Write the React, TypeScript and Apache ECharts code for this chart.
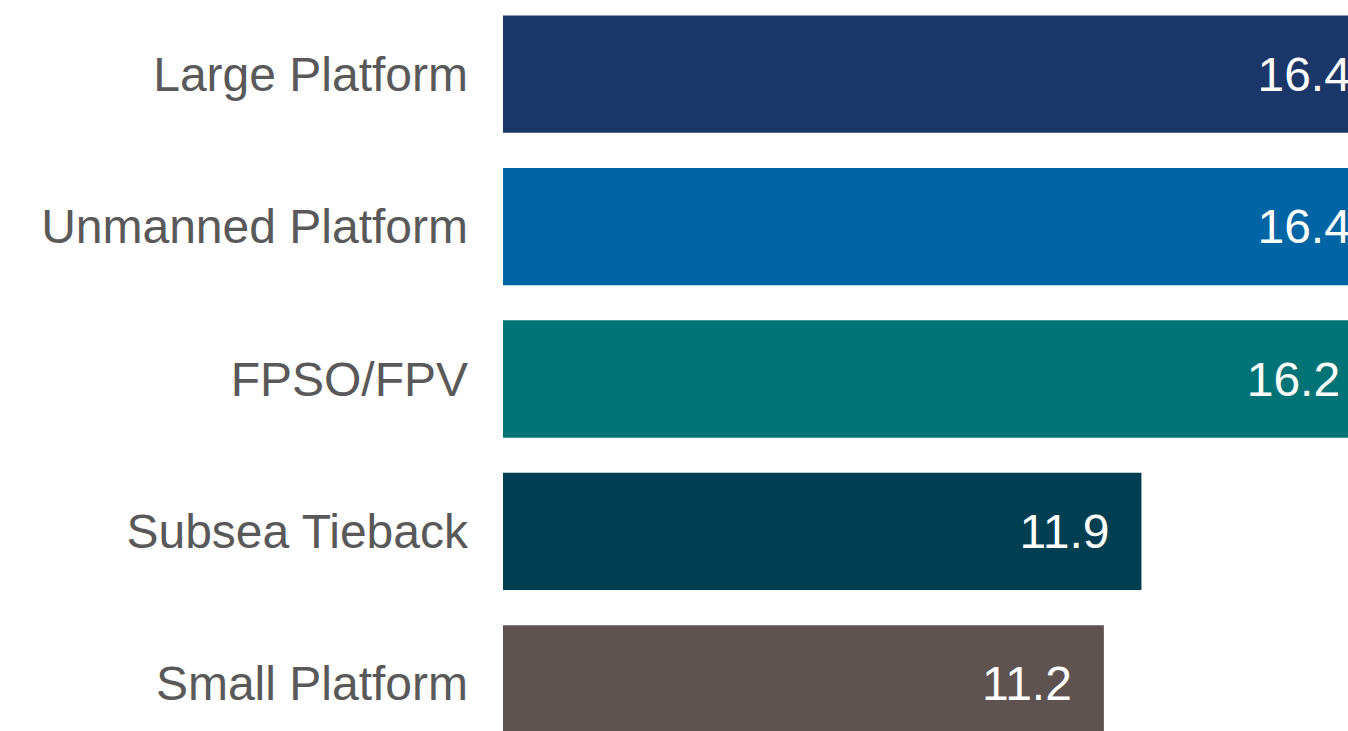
import React, { useEffect, useRef } from "react";
import * as echarts from "echarts";

const categories = ["Large Platform", "Unmanned Platform", "FPSO/FPV", "Subsea Tieback", "Small Platform"];
const values = [16.4, 16.4, 16.2, 11.9, 11.2];
const barColors = ["#1B3668", "#0065A4", "#007377", "#003F51", "#5F5352"];

export default function App() {
  const ref = useRef<HTMLDivElement>(null);
  useEffect(() => {
    if (!ref.current) return;
    const chart = echarts.init(ref.current, null, { renderer: "svg" });
    chart.setOption({
      animation: false,
      backgroundColor: "#ffffff",
      textStyle: { fontFamily: "Liberation Sans, Arial, sans-serif" },
      grid: { left: 503, right: 0, top: 0, bottom: 0, containLabel: false },
      xAxis: {
        type: "value",
        min: 0,
        max: 20,
        show: false,
        splitLine: { show: false },
      },
      yAxis: {
        type: "category",
        data: categories,
        inverse: true,
        axisLine: { show: false },
        axisTick: { show: false },
        axisLabel: {
          color: "#595959",
          fontSize: 48,
          margin: 35,
          fontFamily: "Liberation Sans, Arial, sans-serif",
        },
      },
      series: [
        {
          type: "bar",
          barCategoryGap: "23%",
          data: values.map((v, i) => ({ value: v, itemStyle: { color: barColors[i] } })),
          label: {
            show: true,
            position: "insideRight",
            distance: 32,
            color: "#ffffff",
            fontSize: 48,
            fontFamily: "Liberation Sans, Arial, sans-serif",
            formatter: (p: any) => p.value.toFixed(1),
          },
        },
      ],
    });
    return () => chart.dispose();
  }, []);
  return (
    <div
      style={{
        position: "fixed",
        left: 0,
        top: 0,
        width: 1348,
        height: 731,
        overflow: "hidden",
        background: "#ffffff",
      }}
    >
      <div ref={ref} style={{ position: "absolute", left: 0, top: -2, width: 1576, height: 762 }} />
    </div>
  );
}
